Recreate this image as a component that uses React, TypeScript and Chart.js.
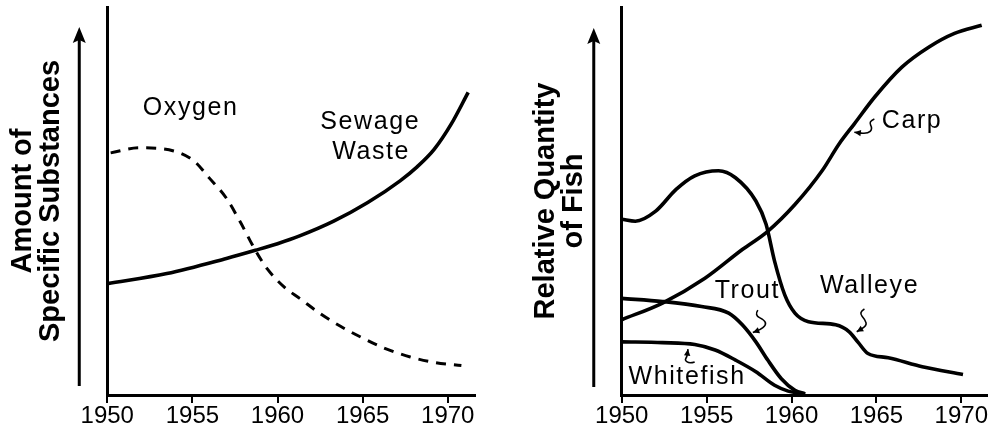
import React, { useEffect, useRef } from "react";
import { Chart, registerables } from "chart.js";

Chart.register(...registerables);

// ---------- Data ----------
const xTickLabels = ["1950", "1955", "1960", "1965", "1970"];

const sewageYears = [1950, 1953.5, 1957, 1958.7, 1960, 1961.3, 1963.3, 1965.3, 1967.2, 1968.2, 1969.2, 1970.2, 1971.2];
const sewageValues = [28.7, 31.3, 35.2, 37.3, 39.0, 41.0, 44.8, 49.6, 55.2, 58.8, 63.3, 69.8, 78.0];

const oxygenYears = [1950.2, 1951.9, 1953.9, 1955.1, 1956, 1957, 1957.8, 1958.7, 1959.4, 1960.4, 1961.3, 1962.5, 1963.7, 1964.9, 1966.2, 1967.8, 1969.2, 1970.8];
const oxygenValues = [62.4, 63.7, 62.9, 60.3, 55.9, 50.7, 44.7, 37.3, 32.5, 27.8, 24.9, 21.0, 17.7, 14.9, 12.2, 9.8, 8.4, 7.6];

const carpYears = [1950, 1952.4, 1954.9, 1957.1, 1958.6, 1960.2, 1961.8, 1962.8, 1963.7, 1964.9, 1966.5, 1968.1, 1969.6, 1971.2];
const carpValues = [19.4, 23.7, 30.1, 37.5, 42.2, 49.1, 57.8, 64.7, 69.9, 76.8, 84.5, 89.7, 93.2, 95.3];

const walleyeYears = [1950, 1950.8, 1952, 1953.2, 1954.3, 1955.7, 1956.7, 1957.9, 1958.5, 1959, 1959.6, 1960.2, 1961, 1962.6, 1963.4, 1963.9, 1964.5, 1965.7, 1967.7, 1970.1];
const walleyeValues = [45.3, 44.8, 47.4, 53, 56.5, 57.8, 56, 50, 44, 34.5, 25.8, 21.1, 18.9, 18.1, 16.3, 13.7, 10.7, 9.6, 7.3, 5.3];

const troutYears = [1950, 1952.4, 1954.7, 1956.3, 1957.1, 1957.9, 1958.6, 1959.4, 1960.2, 1960.8];
const troutValues = [24.9, 24.1, 22.8, 21.1, 18.1, 13.7, 9.0, 4.2, 1.2, 0.3];

const whitefishYears = [1950, 1952.4, 1954.3, 1955.5, 1956.7, 1957.9, 1959, 1959.8, 1960.8];
const whitefishValues = [13.7, 13.5, 13.0, 11.6, 9.0, 6.0, 2.5, 1.0, 0.2];

const leftTitle = ["Amount of", "Specific Substances"];
const rightTitle = ["Relative Quantity", "of Fish"];

// ---------- helpers ----------
const FONT = '"Liberation Sans", Arial, Helvetica, sans-serif';
const pts = (xs: number[], ys: number[]) => xs.map((x, i) => ({ x, y: ys[i] }));

const decorPlugin = {
  id: "decor",
  afterDraw(chart: any, _args: any, opts: any) {
    const { ctx, chartArea, scales } = chart;
    const xs = scales.x;
    const ys = scales.y;
    ctx.save();
    ctx.strokeStyle = "#000";
    ctx.fillStyle = "#000";
    // big vertical arrow
    const ax = chartArea.left - opts.arrowGap;
    const top = chartArea.top + opts.arrowTop;
    const bottom = chartArea.bottom - opts.arrowBottom;
    ctx.lineWidth = 3;
    ctx.beginPath();
    ctx.moveTo(ax, bottom);
    ctx.lineTo(ax, top + 10);
    ctx.stroke();
    ctx.beginPath();
    ctx.moveTo(ax, top);
    ctx.lineTo(ax - 6.5, top + 16);
    ctx.lineTo(ax, top + 13);
    ctx.lineTo(ax + 6.5, top + 16);
    ctx.closePath();
    ctx.fill();

    // curve labels
    ctx.font = `25px ${FONT}`;
    try { (ctx as any).letterSpacing = "1.6px"; } catch (e) {}
    ctx.textBaseline = "middle";
    ctx.textAlign = "center";
    for (const l of opts.labels || []) {
      ctx.fillText(l.text, xs.getPixelForValue(l.x), ys.getPixelForValue(l.y));
    }
    try { (ctx as any).letterSpacing = "0px"; } catch (e) {}

    // small squiggle pointers
    ctx.lineWidth = 1.6;
    for (const s of opts.squiggles || []) {
      const tx = xs.getPixelForValue(s.x);
      const ty = ys.getPixelForValue(s.y);
      const p = s.path.map((d: number[]) => [tx + d[0], ty + d[1]]);
      ctx.beginPath();
      ctx.moveTo(p[0][0], p[0][1]);
      for (let i = 1; i < p.length - 1; i++) {
        const mx = (p[i][0] + p[i + 1][0]) / 2;
        const my = (p[i][1] + p[i + 1][1]) / 2;
        ctx.quadraticCurveTo(p[i][0], p[i][1], mx, my);
      }
      ctx.lineTo(p[p.length - 1][0], p[p.length - 1][1]);
      ctx.stroke();
      // arrowhead at tip
      const a = p[p.length - 2];
      const b = p[p.length - 1];
      const ang = Math.atan2(b[1] - a[1], b[0] - a[0]);
      const L = 6.5, W = 3.2;
      ctx.beginPath();
      ctx.moveTo(b[0], b[1]);
      ctx.lineTo(b[0] - L * Math.cos(ang) + W * Math.sin(ang), b[1] - L * Math.sin(ang) - W * Math.cos(ang));
      ctx.lineTo(b[0] - L * Math.cos(ang) - W * Math.sin(ang), b[1] - L * Math.sin(ang) + W * Math.cos(ang));
      ctx.closePath();
      ctx.fill();
    }
    ctx.restore();
  },
};

function makeScales(xMax: number, title: string[], titlePad: { top: number; bottom: number }) {
  return {
    x: {
      type: "linear",
      min: 1950,
      max: xMax,
      border: { display: true, color: "#000", width: 3 },
      grid: { display: true, drawOnChartArea: false, drawTicks: true, tickLength: 8, color: "#000", lineWidth: 2 },
      ticks: {
        stepSize: 5,
        includeBounds: false,
        autoSkip: false,
        maxRotation: 0,
        color: "#000",
        padding: 1,
        font: { family: FONT, size: 24, lineHeight: 1 },
        callback: (v: number) => {
          const idx = Math.round((v - 1950) / 5);
          return xTickLabels[idx] ?? String(v);
        },
      },
    },
    y: {
      type: "linear",
      min: 0,
      max: 100,
      border: { display: true, color: "#000", width: 3 },
      grid: { display: false, drawTicks: false },
      ticks: { display: false },
      title: {
        display: true,
        text: title,
        color: "#000",
        font: { family: FONT, size: 29, weight: "bold", lineHeight: 0.97 },
        padding: titlePad,
      },
    },
  };
}

const lineDs = (label: string, data: any[], extra: any = {}) => ({
  label,
  data,
  borderColor: "#000",
  backgroundColor: "#000",
  borderWidth: 3.6,
  pointRadius: 0,
  cubicInterpolationMode: "monotone",
  fill: false,
  ...extra,
});

function ChartCanvas({ config, width, height }: { config: any; width: number; height: number }) {
  const ref = useRef<HTMLCanvasElement | null>(null);
  useEffect(() => {
    if (!ref.current) return;
    const chart = new Chart(ref.current, config);
    return () => chart.destroy();
  }, []);
  return <canvas ref={ref} width={width} height={height} style={{ width, height, display: "block" }} />;
}

export default function App() {
  const leftConfig = {
    type: "line",
    data: {
      datasets: [
        lineDs("Sewage Waste", pts(sewageYears, sewageValues)),
        lineDs("Oxygen", pts(oxygenYears, oxygenValues), { borderWidth: 3, borderDash: [10, 8] }),
      ],
    },
    options: {
      animation: false,
      responsive: false,
      devicePixelRatio: 1,
      layout: { padding: { top: 7, right: 15, bottom: 0, left: 0 } },
      plugins: {
        legend: { display: false },
        tooltip: { enabled: false },
        decor: {
          arrowGap: 28,
          arrowTop: 20,
          arrowBottom: 9,
          labels: [
            { text: "Oxygen", x: 1954.9, y: 74.0 },
            { text: "Sewage", x: 1965.45, y: 70.4 },
            { text: "Waste", x: 1965.5, y: 62.6 },
          ],
          squiggles: [],
        },
      },
      scales: makeScales(1971.6, leftTitle, { top: 9, bottom: 42 }),
    },
    plugins: [decorPlugin],
  };

  const rightConfig = {
    type: "line",
    data: {
      datasets: [
        lineDs("Carp", pts(carpYears, carpValues)),
        lineDs("Walleye", pts(walleyeYears, walleyeValues)),
        lineDs("Trout", pts(troutYears, troutValues)),
        lineDs("Whitefish", pts(whitefishYears, whitefishValues)),
      ],
    },
    options: {
      animation: false,
      responsive: false,
      devicePixelRatio: 1,
      layout: { padding: { top: 7, right: 0, bottom: 0, left: 32 } },
      plugins: {
        legend: { display: false },
        tooltip: { enabled: false },
        decor: {
          arrowGap: 28,
          arrowTop: 21,
          arrowBottom: 8,
          labels: [
            { text: "Carp", x: 1967.1, y: 70.7 },
            { text: "Walleye", x: 1964.6, y: 28.0 },
            { text: "Trout", x: 1957.4, y: 26.7 },
            { text: "Whitefish", x: 1953.85, y: 4.7 },
          ],
          squiggles: [
            { x: 1963.7, y: 67.7, path: [[20, -13.4], [14.3, -11], [18.3, -3.4], [13.3, 1.6], [0, 0]] },
            { x: 1963.84, y: 16.3, path: [[7.7, -22.7], [2, -19.3], [8.7, -11.7], [10, -6], [0, 0]] },
            { x: 1957.72, y: 16.1, path: [[5, -22.4], [1.7, -17.4], [11.7, -12.4], [13.4, -7.4], [6.7, -2.4], [0, 0]] },
            { x: 1953.9, y: 11.8, path: [[6.7, 12.7], [1.7, 14.4], [-3.3, 11], [-1, 7.7], [0, 0]] },
          ],
        },
      },
      scales: makeScales(1971.53, rightTitle, { top: 10, bottom: 33.5 }),
    },
    plugins: [decorPlugin],
  };

  return (
    <div style={{ position: "fixed", left: 0, top: 0, width: 989, height: 429, background: "#fff", overflow: "hidden" }}>
      <div style={{ position: "absolute", left: 0, top: 0 }}>
        <ChartCanvas config={leftConfig} width={490} height={429} />
      </div>
      <div style={{ position: "absolute", left: 490, top: 0 }}>
        <ChartCanvas config={rightConfig} width={499} height={429} />
      </div>
    </div>
  );
}
